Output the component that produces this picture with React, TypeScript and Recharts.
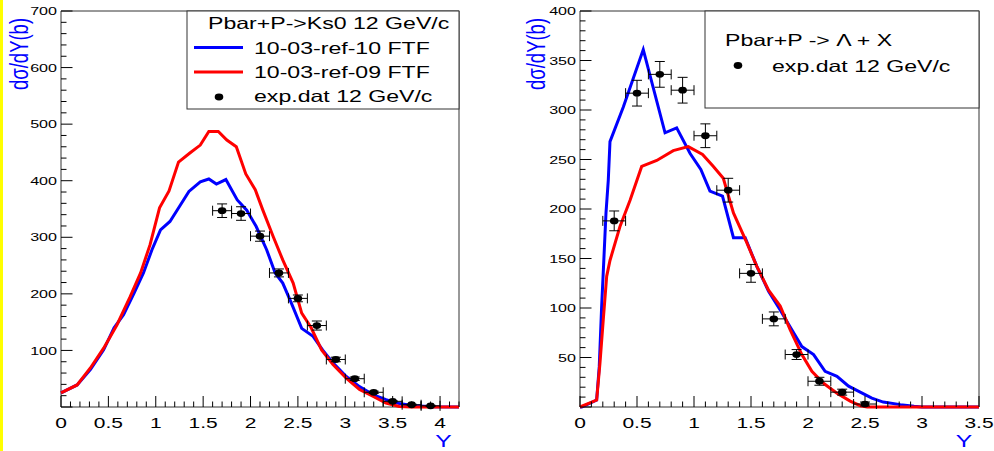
import React from 'react';
import { ComposedChart, Line, Scatter, XAxis, YAxis, ErrorBar, ReferenceArea } from 'recharts';

// ---------- Left panel: Pbar+P -> Ks0 12 GeV/c ----------
const ksRef10 = [
  { x: 0, y: 25 }, { x: 0.17, y: 39 }, { x: 0.31, y: 66 }, { x: 0.45, y: 101 }, { x: 0.56, y: 140 },
  { x: 0.66, y: 163 }, { x: 0.77, y: 201 }, { x: 0.87, y: 237 }, { x: 0.96, y: 278 }, { x: 1.05, y: 313 },
  { x: 1.15, y: 328 }, { x: 1.26, y: 357 }, { x: 1.35, y: 381 }, { x: 1.47, y: 398 }, { x: 1.56, y: 403 },
  { x: 1.64, y: 394 }, { x: 1.74, y: 402 }, { x: 1.86, y: 366 }, { x: 1.96, y: 348 }, { x: 2.06, y: 319 },
  { x: 2.17, y: 278 }, { x: 2.26, y: 237 }, { x: 2.34, y: 219 }, { x: 2.43, y: 184 }, { x: 2.54, y: 139 },
  { x: 2.66, y: 125 }, { x: 2.76, y: 101 }, { x: 2.87, y: 78 }, { x: 3.01, y: 54 }, { x: 3.15, y: 36 },
  { x: 3.29, y: 22 }, { x: 3.43, y: 13 }, { x: 3.57, y: 6 }, { x: 3.74, y: 2 }, { x: 3.92, y: 0.5 },
  { x: 4.2, y: 0 },
];

const ksRef09 = [
  { x: 0, y: 25 }, { x: 0.17, y: 39 }, { x: 0.31, y: 69 }, { x: 0.45, y: 104 }, { x: 0.59, y: 145 },
  { x: 0.73, y: 195 }, { x: 0.84, y: 237 }, { x: 0.94, y: 287 }, { x: 1.04, y: 352 }, { x: 1.14, y: 382 },
  { x: 1.24, y: 433 }, { x: 1.36, y: 449 }, { x: 1.47, y: 463 }, { x: 1.56, y: 487 }, { x: 1.66, y: 487 },
  { x: 1.75, y: 472 }, { x: 1.85, y: 460 }, { x: 1.95, y: 412 }, { x: 2.05, y: 384 }, { x: 2.13, y: 348 },
  { x: 2.24, y: 301 }, { x: 2.34, y: 260 }, { x: 2.45, y: 219 }, { x: 2.54, y: 166 }, { x: 2.64, y: 140 },
  { x: 2.75, y: 101 }, { x: 2.87, y: 75 }, { x: 3.01, y: 51 }, { x: 3.15, y: 31 }, { x: 3.29, y: 19 },
  { x: 3.43, y: 7 }, { x: 3.57, y: 1 }, { x: 3.7, y: 0 }, { x: 4.2, y: 0 },
];

const ksExp = [
  { x: 1.7, y: 347, ex: 0.1, ey: 12 }, { x: 1.9, y: 342, ex: 0.1, ey: 12 },
  { x: 2.1, y: 302, ex: 0.1, ey: 9 }, { x: 2.3, y: 237, ex: 0.1, ey: 7 },
  { x: 2.5, y: 192, ex: 0.1, ey: 6 }, { x: 2.7, y: 144, ex: 0.1, ey: 8 },
  { x: 2.9, y: 84, ex: 0.1, ey: 4 }, { x: 3.1, y: 50, ex: 0.1, ey: 3 },
  { x: 3.3, y: 26, ex: 0.1, ey: 2 }, { x: 3.5, y: 10, ex: 0.1, ey: 1 },
  { x: 3.7, y: 4, ex: 0.1, ey: 1 }, { x: 3.9, y: 2, ex: 0.1, ey: 1 },
];

// ---------- Right panel: Pbar+P -> Lambda + X ----------
const lamRef10 = [
  { x: 0, y: 0 }, { x: 0.015, y: 0 }, { x: 0.146, y: 7 }, { x: 0.169, y: 41 }, { x: 0.19, y: 102 },
  { x: 0.204, y: 136 }, { x: 0.228, y: 196 }, { x: 0.248, y: 229 }, { x: 0.263, y: 268 }, { x: 0.38, y: 303 },
  { x: 0.555, y: 361 }, { x: 0.746, y: 277 }, { x: 0.848, y: 282 }, { x: 0.966, y: 256 }, { x: 1.06, y: 240 },
  { x: 1.14, y: 218 }, { x: 1.25, y: 213 }, { x: 1.346, y: 171 }, { x: 1.449, y: 171 }, { x: 1.551, y: 142 },
  { x: 1.654, y: 117 }, { x: 1.756, y: 98 }, { x: 1.858, y: 78 }, { x: 1.946, y: 61 }, { x: 2.049, y: 53 },
  { x: 2.15, y: 36 }, { x: 2.254, y: 31 }, { x: 2.356, y: 21 }, { x: 2.458, y: 15 }, { x: 2.56, y: 9 },
  { x: 2.66, y: 5 }, { x: 2.81, y: 2.4 }, { x: 2.93, y: 0.7 }, { x: 3.0, y: 0 }, { x: 3.5, y: 0 },
];

const lamRef09 = [
  { x: 0, y: 0 }, { x: 0.146, y: 7 }, { x: 0.175, y: 44 }, { x: 0.204, y: 88 }, { x: 0.234, y: 132 },
  { x: 0.263, y: 148 }, { x: 0.35, y: 182 }, { x: 0.44, y: 209 }, { x: 0.541, y: 243 }, { x: 0.673, y: 249 },
  { x: 0.818, y: 259 }, { x: 0.95, y: 263 }, { x: 1.075, y: 255 }, { x: 1.17, y: 243 }, { x: 1.257, y: 231 },
  { x: 1.346, y: 196 }, { x: 1.463, y: 166 }, { x: 1.551, y: 142 }, { x: 1.654, y: 118 }, { x: 1.756, y: 102 },
  { x: 1.844, y: 78 }, { x: 1.946, y: 53 }, { x: 2.034, y: 36 }, { x: 2.136, y: 24 }, { x: 2.254, y: 14 },
  { x: 2.37, y: 6 }, { x: 2.458, y: 1.3 }, { x: 2.52, y: 0 }, { x: 3.5, y: 0 },
];

const lamExp = [
  { x: 0.3, y: 188, ex: 0.1, ey: 10 }, { x: 0.5, y: 317, ex: 0.1, ey: 13 },
  { x: 0.7, y: 336, ex: 0.1, ey: 13 }, { x: 0.9, y: 320, ex: 0.1, ey: 13 },
  { x: 1.1, y: 274, ex: 0.1, ey: 12 }, { x: 1.3, y: 219, ex: 0.1, ey: 12 },
  { x: 1.5, y: 135, ex: 0.1, ey: 9 }, { x: 1.7, y: 89, ex: 0.1, ey: 7 },
  { x: 1.9, y: 53, ex: 0.1, ey: 5 }, { x: 2.1, y: 26, ex: 0.1, ey: 4 },
  { x: 2.3, y: 15, ex: 0.1, ey: 3 }, { x: 2.5, y: 3, ex: 0.1, ey: 2 },
];

// ---------- Ticks & labels ----------
const xTicksLeft = Array.from({ length: 43 }, (_, i) => i / 10);
const xTicksRight = Array.from({ length: 36 }, (_, i) => i / 10);
const yTicksLeft = Array.from({ length: 36 }, (_, i) => i * 20);
const yTicksRight = Array.from({ length: 41 }, (_, i) => i * 10);

const titleLeft = 'Pbar+P->Ks0 12 GeV/c';
const titleRight = 'Pbar+P -> \u039B + X';
const nameRef10 = '10-03-ref-10 FTF';
const nameRef09 = '10-03-ref-09 FTF';
const nameExp = 'exp.dat 12 GeV/c';
const yTitle = 'd\u03C3/dY(b)';
const xTitle = 'Y';

const FONT = '"Liberation Sans", Arial, Helvetica, sans-serif';
const SX = 1.4;
const BLUE = '#0000ff';
const RED = '#ff0000';

const isMult = (v: number, step: number) => Math.abs(v / step - Math.round(v / step)) < 1e-6;

const makeXTick = (step: number) => (props: any) => {
  const { x, y, payload } = props;
  const v = payload.value as number;
  const major = isMult(v, step);
  return (
    <g>
      <line x1={x} y1={y} x2={x} y2={y - (major ? 11 : 5.5)} stroke="#000" strokeWidth={1} />
      {major && (
        <text
          transform={`translate(${x},${y + 21}) scale(${SX},1)`}
          textAnchor="middle"
          fontSize={15}
          fontFamily={FONT}
          fill="#000"
        >
          {String(Math.round(v * 10) / 10)}
        </text>
      )}
    </g>
  );
};

const makeYTick = (step: number) => (props: any) => {
  const { x, y, payload } = props;
  const v = payload.value as number;
  const major = isMult(v, step);
  return (
    <g>
      <line x1={x} y1={y} x2={x + (major ? 11.5 : 5.5)} y2={y} stroke="#000" strokeWidth={1} />
      {major && v !== 0 && (
        <text
          transform={`translate(${x - 4},${y + 4.2}) scale(${SX},1)`}
          textAnchor="end"
          fontSize={11.5}
          fontFamily={FONT}
          fill="#000"
        >
          {String(v)}
        </text>
      )}
    </g>
  );
};

const Dot = (props: any) => {
  const { cx, cy } = props;
  if (cx == null || cy == null) return null;
  return <ellipse cx={cx} cy={cy} rx={4.3} ry={3.4} fill="#000" />;
};

const STxt = ({ x, y, size, children, anchor = 'start', fill = '#000' }: any) => (
  <text
    transform={`translate(${x},${y}) scale(${SX},1)`}
    textAnchor={anchor}
    fontSize={size}
    fontFamily={FONT}
    fill={fill}
  >
    {children}
  </text>
);

export default function App() {
  return (
    <div
      style={{
        position: 'absolute',
        left: 0,
        top: 0,
        width: 994,
        height: 451,
        background: '#fff',
        overflow: 'hidden',
      }}
    >
      <div style={{ position: 'absolute', left: 0, top: 0, width: 3, height: 451, background: '#ffff00' }} />

      <div style={{ position: 'absolute', left: 0, top: 0 }}>
        <ComposedChart width={480} height={451} margin={{ top: 11, right: 21, bottom: 14, left: 0 }}>
          <XAxis
            dataKey="x"
            type="number"
            domain={[0, 4.2]}
            ticks={xTicksLeft}
            interval={0}
            tickSize={0}
            tickMargin={0}
            tickLine={false}
            axisLine={false}
            height={30}
            tick={makeXTick(0.5)}
          />
          <YAxis
            dataKey="y"
            type="number"
            domain={[0, 700]}
            ticks={yTicksLeft}
            interval={0}
            tickSize={0}
            tickMargin={0}
            tickLine={false}
            axisLine={false}
            width={61}
            tick={makeYTick(100)}
          />
          <ReferenceArea x1={0} x2={4.2} y1={0} y2={700} fill="none" stroke="#333" strokeWidth={1} />
          <Line data={ksRef10} dataKey="y" type="linear" stroke={BLUE} strokeWidth={3} dot={false} isAnimationActive={false} />
          <Line data={ksRef09} dataKey="y" type="linear" stroke={RED} strokeWidth={3} dot={false} isAnimationActive={false} />
          <Scatter data={ksExp} dataKey="y" fill="#000" shape={Dot} isAnimationActive={false}>
            <ErrorBar dataKey="ey" direction="y" width={5} stroke="#000" strokeWidth={1} />
            <ErrorBar dataKey="ex" direction="x" width={5} stroke="#000" strokeWidth={1} />
          </Scatter>
        </ComposedChart>
      </div>

      <div style={{ position: 'absolute', left: 500, top: 0 }}>
        <ComposedChart width={494} height={451} margin={{ top: 11, right: 15, bottom: 14, left: 0 }}>
          <XAxis
            dataKey="x"
            type="number"
            domain={[0, 3.5]}
            ticks={xTicksRight}
            interval={0}
            tickSize={0}
            tickMargin={0}
            tickLine={false}
            axisLine={false}
            height={30}
            tick={makeXTick(0.5)}
          />
          <YAxis
            dataKey="y"
            type="number"
            domain={[0, 400]}
            ticks={yTicksRight}
            interval={0}
            tickSize={0}
            tickMargin={0}
            tickLine={false}
            axisLine={false}
            width={80}
            tick={makeYTick(50)}
          />
          <ReferenceArea x1={0} x2={3.5} y1={0} y2={400} fill="none" stroke="#333" strokeWidth={1} />
          <Line data={lamRef10} dataKey="y" type="linear" stroke={BLUE} strokeWidth={3} dot={false} isAnimationActive={false} />
          <Line data={lamRef09} dataKey="y" type="linear" stroke={RED} strokeWidth={3} dot={false} isAnimationActive={false} />
          <Scatter data={lamExp} dataKey="y" fill="#000" shape={Dot} isAnimationActive={false}>
            <ErrorBar dataKey="ey" direction="y" width={5} stroke="#000" strokeWidth={1} />
            <ErrorBar dataKey="ex" direction="x" width={5} stroke="#000" strokeWidth={1} />
          </Scatter>
        </ComposedChart>
      </div>

      <svg
        width={994}
        height={451}
        style={{ position: 'absolute', left: 0, top: 0, pointerEvents: 'none' }}
      >
        {/* Left legend */}
        <rect x={187} y={11} width={272} height={98} fill="#fff" stroke="#333" strokeWidth={1} />
        <STxt x={208} y={28.5} size={16.5}>{titleLeft}</STxt>
        <line x1={194} y1={47.5} x2={243} y2={47.5} stroke={BLUE} strokeWidth={3} />
        <STxt x={254} y={53.5} size={16.5}>{nameRef10}</STxt>
        <line x1={194} y1={72} x2={243} y2={72} stroke={RED} strokeWidth={3} />
        <STxt x={254} y={77.5} size={16.5}>{nameRef09}</STxt>
        <ellipse cx={219} cy={97} rx={4.3} ry={3.4} fill="#000" />
        <STxt x={254} y={101.5} size={16.5}>{nameExp}</STxt>

        {/* Right legend */}
        <rect x={705} y={11} width={274} height={97} fill="#fff" stroke="#333" strokeWidth={1} />
        <STxt x={725} y={45.5} size={16.5}>{titleRight}</STxt>
        <ellipse cx={738} cy={65.5} rx={4.3} ry={3.4} fill="#000" />
        <STxt x={772} y={72} size={16.5}>{nameExp}</STxt>

        {/* Axis titles */}
        <text
          transform={`translate(28,90) scale(${SX},1) rotate(-90)`}
          fontSize={18.5}
          fontFamily={FONT}
          fill={BLUE}
        >
          {yTitle}
        </text>
        <text
          transform={`translate(545,90) scale(${SX},1) rotate(-90)`}
          fontSize={18.5}
          fontFamily={FONT}
          fill={BLUE}
        >
          {yTitle}
        </text>
        <text
          transform={`translate(443.5,447) scale(1.45,1)`}
          textAnchor="middle"
          fontSize={17}
          fontFamily={FONT}
          fill={BLUE}
        >
          {xTitle}
        </text>
        <text
          transform={`translate(964,447) scale(1.45,1)`}
          textAnchor="middle"
          fontSize={17}
          fontFamily={FONT}
          fill={BLUE}
        >
          {xTitle}
        </text>
      </svg>
    </div>
  );
}
